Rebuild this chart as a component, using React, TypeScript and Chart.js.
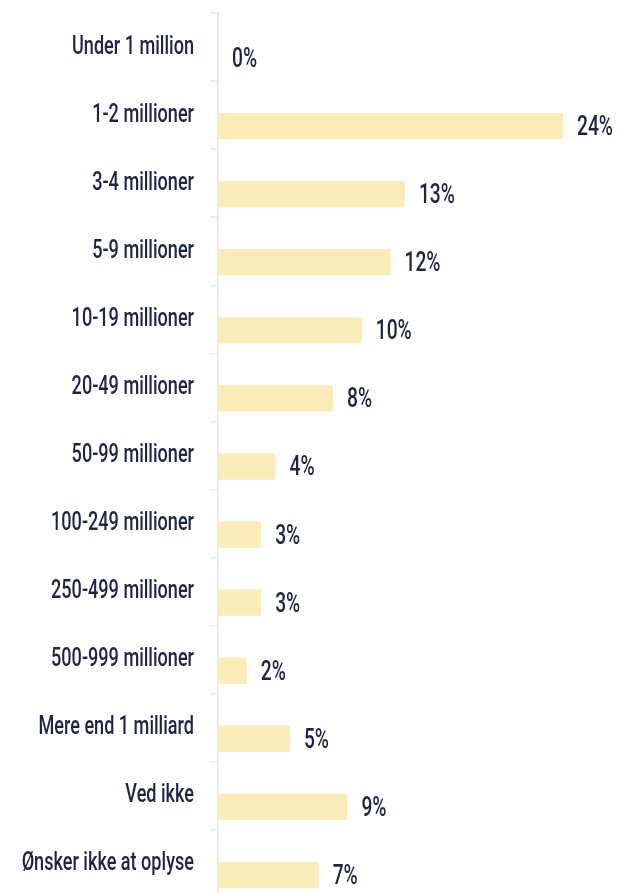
import React, { useEffect, useRef } from "react";
import { Chart, registerables } from "chart.js";

Chart.register(...registerables);

const categories = [
  "Under 1 million",
  "1-2 millioner",
  "3-4 millioner",
  "5-9 millioner",
  "10-19 millioner",
  "20-49 millioner",
  "50-99 millioner",
  "100-249 millioner",
  "250-499 millioner",
  "500-999 millioner",
  "Mere end 1 milliard",
  "Ved ikke",
  "Ønsker ikke at oplyse",
];
const shareValues = [0, 24, 13, 12, 10, 8, 4, 3, 3, 2, 5, 9, 7];
const spacerValues = categories.map(() => 0);

const FONT = 'Roboto, "DejaVu Sans", sans-serif';
const TEXT = "#1f2442";
const BAR = "#fcecb9";
const AXIS = "#e1eeea";
const LABEL_FONT = `500 26px ${FONT}`;
const VALUE_FONT = `500 28px ${FONT}`;

// Condensed text: horizontal squeeze derived from one reference label width
function squeeze(ctx: CanvasRenderingContext2D, font: string, sample: string, target: number) {
  ctx.save();
  ctx.font = font;
  const w = ctx.measureText(sample).width;
  ctx.restore();
  return w > 0 ? target / w : 1;
}

function drawText(ctx: CanvasRenderingContext2D, text: string, x: number, y: number, s: number, align: CanvasTextAlign) {
  ctx.save();
  ctx.translate(x, y);
  ctx.scale(s, 1);
  ctx.textAlign = align;
  ctx.textBaseline = "middle";
  ctx.fillText(text, 0, 0);
  ctx.restore();
}

const textPlugin = {
  id: "condensedText",
  afterDatasetsDraw(chart: any) {
    const ctx: CanvasRenderingContext2D = chart.ctx;
    const yScale = chart.scales.y;
    const sLabel = squeeze(ctx, LABEL_FONT, "Under 1 million", 122);
    const sValue = squeeze(ctx, VALUE_FONT, "24%", 36);
    ctx.save();
    ctx.fillStyle = TEXT;
    ctx.font = LABEL_FONT;
    categories.forEach((c, i) => {
      const y = yScale.getPixelForTick(i);
      drawText(ctx, c, 194, y, sLabel, "right");
    });
    ctx.font = VALUE_FONT;
    const meta = chart.getDatasetMeta(1);
    meta.data.forEach((bar: any, i: number) => {
      drawText(ctx, `${shareValues[i]}%`, bar.x + 14, bar.y + 2, sValue, "left");
    });
    ctx.restore();
  },
};

export default function App() {
  const ref = useRef<HTMLCanvasElement | null>(null);
  useEffect(() => {
    if (!ref.current) return;
    const chart = new Chart(ref.current, {
      type: "bar",
      data: {
        labels: categories,
        datasets: [
          {
            data: spacerValues,
            backgroundColor: "rgba(0,0,0,0)",
            categoryPercentage: 0.646,
            barPercentage: 1.2,
          },
          {
            data: shareValues,
            backgroundColor: BAR,
            borderRadius: 2,
            borderSkipped: "start",
            categoryPercentage: 0.646,
            barPercentage: 1.2,
          },
        ],
      },
      options: {
        indexAxis: "y",
        responsive: true,
        maintainAspectRatio: false,
        animation: false,
        layout: { padding: { top: 13, bottom: 13, left: 0, right: 55 } },
        plugins: {
          legend: { display: false },
          tooltip: { enabled: false },
        },
        scales: {
          x: {
            display: false,
            min: 0,
            max: 24,
          },
          y: {
            afterFit: (scale: any) => {
              scale.width = 218;
            },
            border: { display: true, color: AXIS, width: 2 },
            grid: {
              display: true,
              drawOnChartArea: false,
              drawTicks: true,
              tickLength: 8,
              color: AXIS,
              lineWidth: 1.5,
              offset: true,
            },
            ticks: { display: false },
          },
        },
      },
      plugins: [textPlugin],
    });
    return () => chart.destroy();
  }, []);
  return (
    <div style={{ position: "absolute", left: 0, top: 0, width: 618, height: 911 }}>
      <canvas ref={ref} />
    </div>
  );
}
